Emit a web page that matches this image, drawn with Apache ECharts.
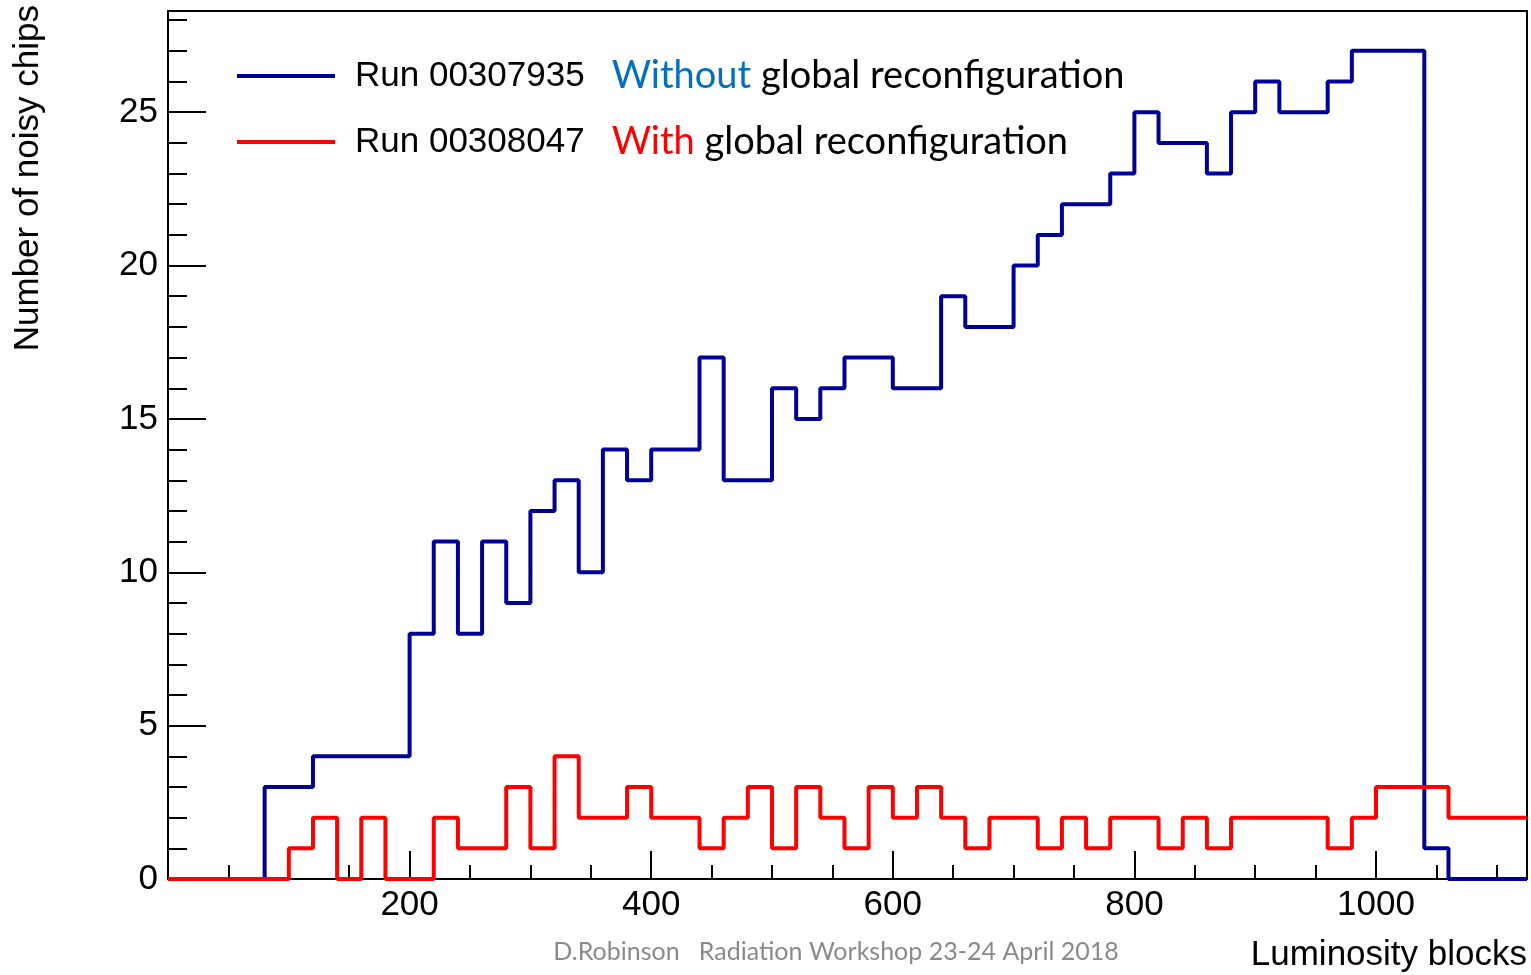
<!DOCTYPE html>
<html><head><meta charset="utf-8">
<script src="https://cdn.jsdelivr.net/npm/echarts@6/dist/echarts.min.js"></script>
<style>html,body{margin:0;padding:0;background:#fff}#c{width:1531px;height:975px}</style>
</head><body><div id="c"></div>
<script>
// ---- data ----
const binWidth = 20;           // luminosity blocks per bin
const xMin = 0;
const xMax = 1125;
const yMin = 0;
const yMax = 28.3;
const seriesNames = ['Run 00307935', 'Run 00308047'];
const seriesWords = ['Without', 'With'];
const legendTail = ' global reconfiguration';
const xTitle = 'Luminosity blocks';
const yTitle = 'Number of noisy chips';
const footer = 'D.Robinson   Radiation Workshop 23-24 April 2018';
const xMajorInterval = 200;
const xMinorInterval = 50;
const yMajorInterval = 5;
const yMinorInterval = 1;
// bin contents, bins start at 0 and are binWidth wide
const blueCounts = [0,0,0,0,3,3,4,4,4,4,8,11,8,11,9,12,13,10,14,13,14,14,17,13,13,16,15,16,17,17,16,16,19,18,18,20,21,22,22,23,25,24,24,23,25,26,25,25,26,27,27,27,1,0,0,0];
const redCounts  = [0,0,0,0,0,1,2,0,2,0,0,2,1,1,3,1,4,2,2,3,2,2,1,2,3,1,3,2,1,3,2,3,2,1,2,2,1,2,1,2,2,1,2,1,2,2,2,2,1,2,3,3,3,2,2,2];

function stepPoints(counts) {
  const pts = counts.map((v, i) => [xMin + i * binWidth, v]);
  pts.push([xMax, counts[counts.length - 1]]);
  return pts;
}

const chart = echarts.init(document.getElementById('c'), null, {renderer: 'canvas'});
const tickFont = 'Liberation Sans';
const black = '#000';

chart.setOption({
  animation: false,
  backgroundColor: '#fff',
  grid: {left: 168, right: 4, top: 11, bottom: 96, show: true, borderColor: black, borderWidth: 2, backgroundColor: 'transparent'},
  xAxis: [
    {type: 'value', min: xMin, max: xMax, interval: xMajorInterval, position: 'bottom',
     axisLine: {show: true, lineStyle: {color: black, width: 2}},
     axisTick: {show: true, inside: true, length: 28, lineStyle: {color: black, width: 2}},
     axisLabel: {show: true, margin: 9, color: black, fontFamily: tickFont, fontSize: 35,
       showMaxLabel: false, showMinLabel: false,
       formatter: v => (v % xMajorInterval === 0 && v > 0) ? String(v) : ''},
     splitLine: {show: false}},
    {type: 'value', min: xMin, max: xMax, interval: xMinorInterval, position: 'bottom',
     axisLine: {show: false},
     axisTick: {show: true, inside: true, length: 14, lineStyle: {color: black, width: 2}},
     axisLabel: {show: false}, splitLine: {show: false}}
  ],
  yAxis: [
    {type: 'value', min: yMin, max: yMax, interval: yMajorInterval, position: 'left',
     axisLine: {show: true, lineStyle: {color: black, width: 2}},
     axisTick: {show: true, inside: true, length: 38, lineStyle: {color: black, width: 2}},
     axisLabel: {show: true, margin: 10, color: black, fontFamily: tickFont, fontSize: 35,
       showMaxLabel: false,
       formatter: v => (v % yMajorInterval === 0) ? String(v) : ''},
     splitLine: {show: false}},
    {type: 'value', min: yMin, max: yMax, interval: yMinorInterval, position: 'left',
     axisLine: {show: false},
     axisTick: {show: true, inside: true, length: 19, lineStyle: {color: black, width: 2}},
     axisLabel: {show: false}, splitLine: {show: false}}
  ],
  legend: {
    left: 237, top: 57, padding: 0, orient: 'vertical', icon: 'rect', itemWidth: 98, itemHeight: 4, itemGap: 28,
    data: seriesNames, selectedMode: false,
    formatter: name => {
      const i = seriesNames.indexOf(name);
      return '{a|' + name + '}{' + (i === 0 ? 'b' : 'd') + '|' + seriesWords[i] + '}{c|' + legendTail + '}';
    },
    textStyle: {
      rich: {
        a: {fontFamily: tickFont, fontSize: 35, color: black, padding: [0, 27, 0, 15]},
        b: {fontFamily: 'Lato', fontSize: 38, color: '#0070C0'},
        d: {fontFamily: 'Lato', fontSize: 38, color: '#FF0000'},
        c: {fontFamily: 'Lato', fontSize: 38, color: black}
      }
    }
  },
  series: [
    {name: seriesNames[0], type: 'line', step: 'end', xAxisIndex: 0, yAxisIndex: 0,
     data: stepPoints(blueCounts), symbol: 'none', z: 3,
     color: '#000099', lineStyle: {color: '#000099', width: 4}},
    {name: seriesNames[1], type: 'line', step: 'end', xAxisIndex: 0, yAxisIndex: 0,
     data: stepPoints(redCounts), symbol: 'none', z: 4,
     color: '#FF0000', lineStyle: {color: '#FF0000', width: 4}}
  ],
  graphic: [
    {type: 'text', x: 28, y: 5, rotation: Math.PI / 2,
     style: {text: yTitle, fontFamily: tickFont, fontSize: 35, fill: black, align: 'right', verticalAlign: 'middle'}},
    {type: 'text', x: 1527, y: 955,
     style: {text: xTitle, fontFamily: tickFont, fontSize: 35, fill: black, align: 'right', verticalAlign: 'middle'}},
    {type: 'text', x: 836, y: 952,
     style: {text: footer, fontFamily: 'Lato', fontSize: 25, fill: '#8a8a8a', align: 'center', verticalAlign: 'middle'}}
  ]
});
</script>
</body></html>
